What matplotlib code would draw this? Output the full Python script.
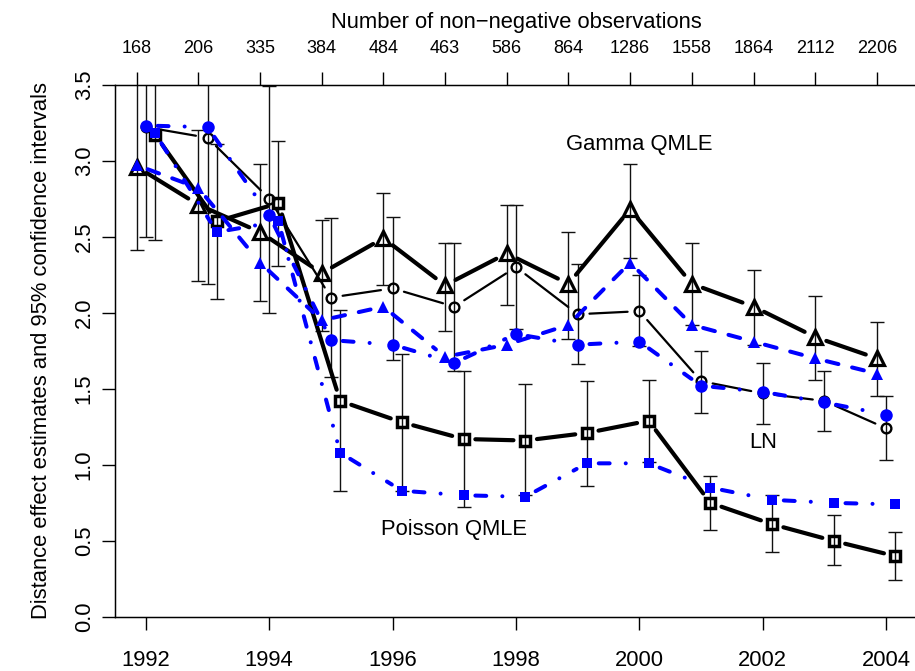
import numpy as np
import matplotlib
matplotlib.use('Agg')
from matplotlib import pyplot as plt

plt.rcParams['font.family'] = ['Liberation Sans', 'DejaVu Sans']

# years and number of non-negative observations per year
years = np.arange(1992, 2005)
n_obs = [168, 206, 335, 384, 484, 463, 586, 864, 1286, 1558, 1864, 2112, 2206]
year_ticks = [1992, 1994, 1996, 1998, 2000, 2002, 2004]
y_ticks = [0.0, 0.5, 1.0, 1.5, 2.0, 2.5, 3.0, 3.5]

# black series (with 95% CI)
gamma = [2.96, 2.71, 2.53, 2.26, 2.49, 2.18, 2.39, 2.19, 2.68, 2.19, 2.04, 1.84, 1.70]
gamma_lo = [2.41, 2.21, 2.08, 1.88, 2.18, 1.88, 2.05, 1.83, 2.36, 1.92, 1.79, 1.56, 1.45]
gamma_hi = [3.51, 3.20, 2.98, 2.61, 2.79, 2.46, 2.71, 2.53, 2.98, 2.46, 2.28, 2.11, 1.94]

ln = [3.22, 3.15, 2.75, 2.10, 2.16, 2.04, 2.30, 1.99, 2.01, 1.55, 1.47, 1.42, 1.24]
ln_lo = [2.50, 2.19, 2.00, 1.58, 1.69, 1.62, 1.89, 1.66, 1.78, 1.34, 1.27, 1.22, 1.03]
ln_hi = [3.94, 4.12, 3.49, 2.62, 2.63, 2.46, 2.71, 2.32, 2.25, 1.75, 1.67, 1.62, 1.45]

poisson = [3.17, 2.60, 2.72, 1.42, 1.28, 1.17, 1.16, 1.21, 1.29, 0.75, 0.61, 0.50, 0.40]
poisson_lo = [2.48, 2.09, 2.31, 0.83, 0.83, 0.72, 0.80, 0.86, 1.02, 0.57, 0.43, 0.34, 0.24]
poisson_hi = [3.86, 3.11, 3.13, 2.02, 1.73, 1.62, 1.53, 1.55, 1.56, 0.93, 0.80, 0.67, 0.56]

# blue series (no CI)
gamma_b = [2.97, 2.82, 2.33, 1.95, 2.04, 1.71, 1.79, 1.92, 2.33, 1.92, 1.81, 1.70, 1.60]
ln_b = [3.23, 3.22, 2.64, 1.82, 1.79, 1.67, 1.86, 1.79, 1.81, 1.52, 1.48, 1.41, 1.33]
poisson_b = [3.18, 2.53, 2.60, 1.08, 0.83, 0.80, 0.79, 1.01, 1.01, 0.85, 0.77, 0.75, 0.74]

FS = 15.8
BLUE = '#0000ff'
DOTDASH = (0, (2.7, 4, 0.01, 4))


def joined(ax, x, y, z, **kw):
    # R type="b": segments stop short of the points
    for i in range(len(x) - 1):
        ax.annotate('', xy=(x[i + 1], y[i + 1]), xytext=(x[i], y[i]),
                    zorder=z,
                    arrowprops=dict(arrowstyle='-', shrinkA=8.5, shrinkB=8.5,
                                    capstyle='round', **kw))


fig = plt.figure(figsize=(9.15, 6.71), dpi=100)
ax = fig.add_axes([115 / 915, 54 / 671, 802 / 915, 532.5 / 671])
ax.set_xlim(1991.5, 2004.5)
ax.set_ylim(0, 3.5)

xg = years - 0.15
xl = years + 0.0
xp = years + 0.15

for x, v, lo, hi in [(xg, gamma, gamma_lo, gamma_hi),
                     (xl, ln, ln_lo, ln_hi),
                     (xp, poisson, poisson_lo, poisson_hi)]:
    v = np.array(v)
    ax.errorbar(x, v, yerr=[v - np.array(lo), np.array(hi) - v], fmt='none',
                ecolor='#111111', elinewidth=1.0, capsize=5, capthick=1.0, zorder=1)

# black estimates
joined(ax, xg, gamma, 2, color='black', lw=3.0)
joined(ax, xl, ln, 2, color='black', lw=1.6)
joined(ax, xp, poisson, 2, color='black', lw=3.0)
ax.plot(xg, gamma, ls='none', marker='^', ms=10, mew=2.3, mfc='none', mec='black', zorder=3)
ax.plot(xl, ln, ls='none', marker='o', ms=7, mew=1.7, mfc='none', mec='black', zorder=3)
ax.plot(xp, poisson, ls='none', marker='s', ms=7, mew=2.5, mfc='none', mec='black', zorder=3)

# blue estimates
joined(ax, xg, gamma_b, 4, color=BLUE, lw=2.9, linestyle=(0, (3.0, 3.5)))
joined(ax, xl, ln_b, 4, color=BLUE, lw=2.9, linestyle=DOTDASH)
joined(ax, xp, poisson_b, 4, color=BLUE, lw=2.9, linestyle=DOTDASH)
ax.plot(xg, gamma_b, ls='none', marker='^', ms=8.5, mew=0, color=BLUE, zorder=5)
ax.plot(xl, ln_b, ls='none', marker='o', ms=9, mew=0, color=BLUE, zorder=5)
ax.plot(xp, poisson_b, ls='none', marker='s', ms=7.5, mew=0, color=BLUE, zorder=5)

ax.text(2000, 3.07, 'Gamma QMLE', ha='center', va='baseline', fontsize=FS)
ax.text(2002, 1.11, 'LN', ha='center', va='baseline', fontsize=FS)
ax.text(1997, 0.54, 'Poisson QMLE', ha='center', va='baseline', fontsize=FS)

ax.set_xticks(year_ticks)
ax.set_xticklabels([str(t) for t in year_ticks])
ax.set_yticks(y_ticks)
ax.set_yticklabels(['%.1f' % t for t in y_ticks])
ax.tick_params(direction='out', length=9.5, width=1, labelsize=FS, colors='black')
ax.tick_params(axis='x', pad=14)
ax.tick_params(axis='y', pad=5)
plt.setp(ax.get_yticklabels(), rotation=90, va='center')
ax.set_ylabel('Distance effect estimates and 95% confidence intervals',
              fontsize=FS, labelpad=16)
for s in ax.spines.values():
    s.set_linewidth(1.0)

ax2 = ax.twiny()
ax2.set_xlim(ax.get_xlim())
ax2.set_xticks(xg)
ax2.set_xticklabels([str(n) for n in n_obs])
ax2.tick_params(direction='out', length=9.5, width=1, labelsize=13, pad=10)
ax2.set_xlabel('Number of non\u2212negative observations', fontsize=FS, labelpad=9)

fig.savefig('out.png', dpi=100)
